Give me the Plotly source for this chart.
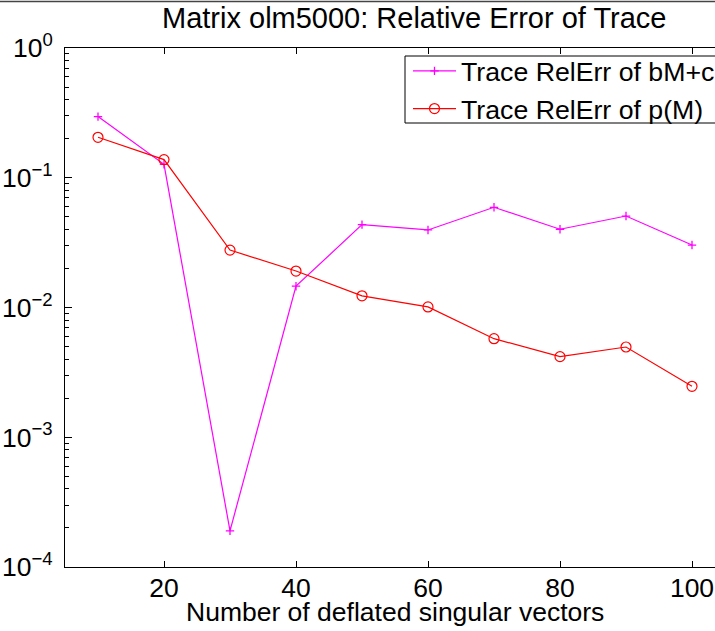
import plotly.graph_objects as go

# Number of deflated singular vectors
deflated = [10, 20, 30, 40, 50, 60, 70, 80, 90, 100]

# Relative error of the trace estimate for each method
relerr_bmc = [0.296, 0.127, 1.9e-4, 0.0146, 0.0435, 0.0396, 0.0592, 0.0401, 0.0507, 0.0303]
relerr_pm = [0.205, 0.138, 0.0277, 0.0191, 0.0123, 0.0101, 0.00575, 0.00418, 0.00496, 0.00247]

series_names = ["Trace RelErr of bM+c", "Trace RelErr of p(M)"]

x_ticks = [20, 40, 60, 80, 100]
y_ticks = [1e-4, 1e-3, 1e-2, 1e-1, 1e0]
y_ticktext = ["10<sup>\u22124</sup>", "10<sup>\u22123</sup>", "10<sup>\u22122</sup>",
              "10<sup>\u22121</sup>", "10<sup>0</sup>"]

title_text = "Matrix olm5000: Relative Error of Trace"
xlabel_text = "Number of deflated singular vectors"

W, H = 715, 631
ML, MT, MB, MR = 65, 48, 64, 0
PW, PH = W - ML - MR, H - MT - MB
FONT = "Liberation Sans, Arial, Helvetica, sans-serif"


def px(xp):
    return (xp - ML) / PW


def py(yp):
    return (H - MB - yp) / PH


fig = go.Figure()
fig.add_trace(go.Scatter(
    x=deflated, y=relerr_bmc, name=series_names[0], mode="lines+markers",
    line=dict(color="#ff00ff", width=1.2),
    marker=dict(symbol="cross-thin", size=6, color="#ff00ff",
                line=dict(color="#ff00ff", width=1.3)),
))
fig.add_trace(go.Scatter(
    x=deflated, y=relerr_pm, name=series_names[1], mode="lines+markers",
    line=dict(color="#ff0000", width=1.2),
    marker=dict(symbol="circle-open", size=10, color="#ff0000",
                line=dict(color="#ff0000", width=1.2)),
))

fig.update_layout(
    width=W, height=H,
    margin=dict(l=ML, r=MR, t=MT, b=MB, pad=0, autoexpand=False),
    paper_bgcolor="white", plot_bgcolor="white",
    font=dict(family=FONT, size=26.5, color="black"),
    showlegend=True,
    legend=dict(
        x=px(408), y=py(47), xanchor="left", yanchor="top",
        bgcolor="rgba(0,0,0,0)", borderwidth=0,
        font=dict(family=FONT, size=26.7, color="black"),
        tracegroupgap=0, itemwidth=43,
    ),
    xaxis=dict(
        range=[5, 5 + PW / 6.6], tickvals=x_ticks, ticks="inside", ticklen=6,
        tickwidth=1, tickcolor="black", showline=True, linecolor="black",
        linewidth=1, mirror="ticks", showgrid=False, zeroline=False,
        tickfont=dict(size=26.5), ticklabelstandoff=-3,
    ),
    yaxis=dict(
        type="log", range=[-4, 0], tickvals=y_ticks, ticktext=y_ticktext,
        ticks="inside", ticklen=7, tickwidth=1, tickcolor="black",
        showline=True, linecolor="black", linewidth=1, mirror=False,
        showgrid=False, zeroline=False, tickfont=dict(size=26.5),
        ticklabelstandoff=6,
        minor=dict(dtick="D1", ticks="inside", ticklen=4, tickcolor="black",
                   showgrid=False),
    ),
    annotations=[
        dict(text=title_text, xref="paper", yref="paper", x=px(414), y=py(18),
             xanchor="center", yanchor="middle", showarrow=False,
             font=dict(family=FONT, size=29, color="black")),
        dict(text=xlabel_text, xref="paper", yref="paper", x=px(395), y=py(612),
             xanchor="center", yanchor="middle", showarrow=False,
             font=dict(family=FONT, size=26.5, color="black")),
    ],
    shapes=[
        dict(type="line", xref="paper", yref="paper", x0=px(0), x1=px(W),
             y0=py(1.5), y1=py(1.5), line=dict(color="#444444", width=1.5)),
        # legend frame
        dict(type="rect", xref="paper", yref="paper", x0=px(405), x1=px(W + 20),
             y0=py(56), y1=py(123), layer="above", fillcolor="white",
             line=dict(color="black", width=1)),
    ],
)

fig.write_html("out.html")
